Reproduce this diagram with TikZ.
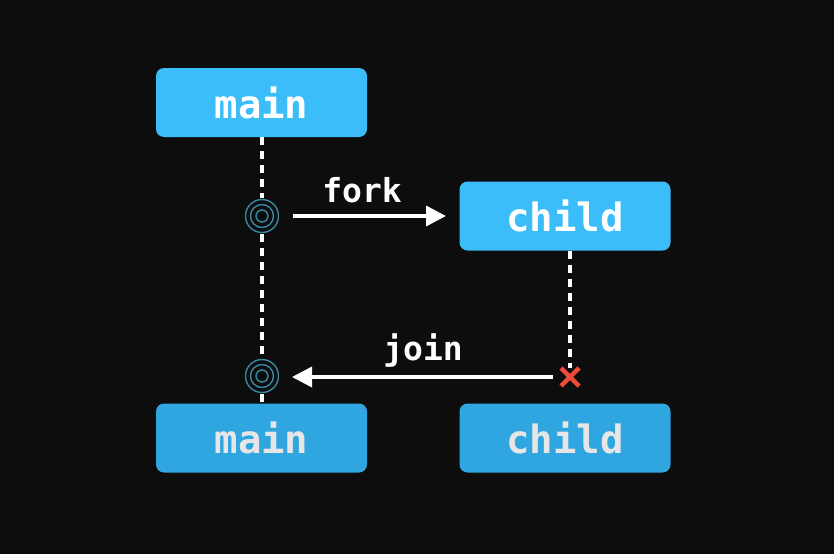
\documentclass[tikz,border=0pt]{standalone}
\usepackage{fontspec}
\setmonofont{DejaVu Sans Mono}
\usetikzlibrary{arrows.meta,calc}
\definecolor{bg}{HTML}{0D0D0D}
\definecolor{boxtop}{HTML}{3BBDF9}
\definecolor{boxbot}{HTML}{2FA6E0}
\definecolor{ring}{HTML}{3B86A3}
\definecolor{xred}{HTML}{F04A3A}
\definecolor{dimtext}{HTML}{E6E6E6}
\tikzset{
  box/.style={rounded corners=8pt, minimum width=211pt, minimum height=69pt, inner sep=0pt,
    font=\fontsize{39}{39}\selectfont\ttfamily\bfseries},
  activebox/.style={box, fill=boxtop, text=white},
  donebox/.style={box, fill=boxbot, text=dimtext},
  life/.style={white, line width=3.5pt, dash pattern=on 8pt off 6pt},
  msg/.style={white, line width=3.5pt, -{Triangle[length=20pt,width=20pt]}},
  lbl/.style={text=white, font=\fontsize{33}{33}\selectfont\ttfamily\bfseries},
  rings/.style={ring, line width=1.4pt}
}
\begin{document}
\begin{tikzpicture}[x=1pt,y=-1pt]
\fill[bg] (0,0) rectangle (834,554);
\useasboundingbox (0,0) rectangle (834,554);

\node[activebox] (m1) at (261.5,102.5) {main};
\node[activebox] (c1) at (565,216) {child};
\node[donebox] (m2) at (261.5,438) {main};
\node[donebox] (c2) at (565,438) {child};

\coordinate (f) at (262,216);
\coordinate (j) at (262,376);
\coordinate (x) at (570,377);

\draw[life] (m1.south -| f) -- ($(f)+(0,-18)$);
\draw[life] ($(f)+(0,18)$) -- ($(j)+(0,-18)$);
\draw[life] ($(j)+(0,18)$) -- (m2.north -| j);
\draw[life] (c1.south -| x) -- ($(x)+(0,-9)$);

\foreach \p in {f,j}{
  \draw[rings] (\p) circle (16.5pt);
  \draw[rings] (\p) circle (11.5pt);
  \draw[rings] (\p) circle (6pt);
}

\coordinate (fs) at (293,216);
\coordinate (fe) at (446,216);
\draw[msg] (fs) -- (fe);
\node[lbl] (fl) at (362,190) {fork};

\coordinate (js) at (553,377);
\coordinate (je) at (292,377);
\draw[msg] (js) -- (je);
\node[lbl] (jl) at (423,350) {join};

\draw[xred, line width=4.5pt] ($(x)+(-9,-9)$) -- ($(x)+(9,9)$)
  ($(x)+(-9,9)$) -- ($(x)+(9,-9)$);
\end{tikzpicture}
\end{document}
